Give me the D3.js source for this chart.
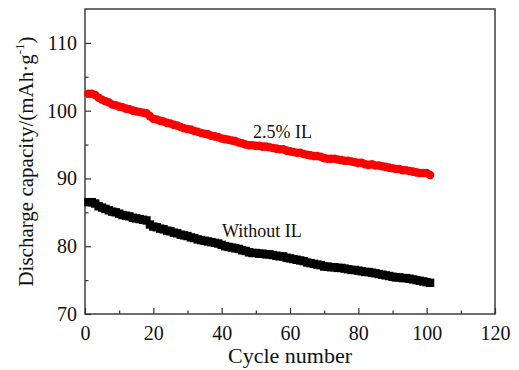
<!DOCTYPE html>
<html><head><meta charset="utf-8">
<script src="https://cdn.jsdelivr.net/npm/d3@7"></script>
<style>body{margin:0;background:#fff}svg{display:block}text{font-family:"Liberation Serif","Times New Roman","DejaVu Serif",serif;fill:#111}</style>
</head><body><svg id="c" width="519" height="370"></svg>
<script>
const cycles = d3.range(1, 102);
const withIL = [102.5,102.5,102.3,101.9,101.6,101.4,101.2,100.9,100.8,100.6,
100.5,100.3,100.2,100.0,99.9,99.8,99.7,99.6,99.2,98.8,
98.7,98.5,98.4,98.2,98.1,97.9,97.8,97.6,97.4,97.3,
97.2,97.0,96.9,96.7,96.6,96.5,96.3,96.2,96.1,95.9,
95.8,95.7,95.6,95.5,95.3,95.2,95.0,94.9,94.9,94.8,
94.8,94.7,94.7,94.6,94.5,94.4,94.3,94.3,94.1,94.0,
93.9,93.8,93.8,93.6,93.5,93.4,93.3,93.3,93.2,93.0,
92.9,92.9,92.9,92.8,92.7,92.6,92.6,92.5,92.4,92.3,
92.3,92.1,92.0,92.1,91.9,91.9,91.8,91.7,91.6,91.5,
91.4,91.4,91.2,91.2,91.1,91.0,90.9,90.8,90.8,90.8,90.5];
const withoutIL = [86.5,86.5,86.3,85.9,85.7,85.5,85.3,85.1,85.0,84.8,
84.6,84.5,84.4,84.2,84.1,84.0,83.9,83.8,83.2,82.9,
82.8,82.6,82.5,82.3,82.2,82.0,81.9,81.7,81.6,81.5,
81.3,81.2,81.0,80.9,80.8,80.7,80.6,80.5,80.4,80.2,
80.0,79.9,79.8,79.7,79.6,79.4,79.3,79.1,79.0,79.0,
78.9,78.9,78.8,78.8,78.7,78.6,78.5,78.5,78.3,78.2,
78.1,78.0,77.9,77.8,77.6,77.5,77.4,77.3,77.2,77.0,
77.0,76.9,76.9,76.8,76.8,76.7,76.6,76.5,76.5,76.4,
76.3,76.2,76.2,76.1,76.0,75.9,75.8,75.7,75.6,75.5,
75.4,75.4,75.3,75.3,75.2,75.1,75.0,74.9,74.8,74.7,74.6];
const xTicks = [0,20,40,60,80,100,120];
const yTicks = [70,80,90,100,110];
const xLabel = "Cycle number";
const labelIL = "2.5% IL";
const labelNo = "Without IL";

const svg = d3.select("#c");
const L=85, R=495, T=9, B=314;
const x = d3.scaleLinear().domain([0,120]).range([L,R]);
const y = d3.scaleLinear().domain([70,115]).range([B,T]);

// frame
svg.append("rect").attr("x",L).attr("y",T).attr("width",R-L).attr("height",B-T)
  .attr("fill","none").attr("stroke","#333").attr("stroke-width",1.4);

// x axis ticks (inward)
const gx = svg.append("g").attr("transform",`translate(0,${B})`)
  .call(d3.axisBottom(x).tickValues(xTicks).tickSizeInner(-6).tickSizeOuter(0).tickPadding(12).tickFormat(d3.format("d")));
gx.select(".domain").remove();
gx.selectAll(".tick line").attr("stroke","#333").attr("stroke-width",1.2);
gx.selectAll("text").attr("font-size",20).attr("fill","#111");
const gxm = svg.append("g").attr("transform",`translate(0,${B})`)
  .call(d3.axisBottom(x).tickValues(d3.range(10,120,20)).tickSizeInner(-3.5).tickSizeOuter(0).tickFormat(""));
gxm.select(".domain").remove();
gxm.selectAll(".tick line").attr("stroke","#333").attr("stroke-width",1.2);

// y axis ticks (inward)
const gy = svg.append("g").attr("transform",`translate(${L},0)`)
  .call(d3.axisLeft(y).tickValues(yTicks).tickSizeInner(-6).tickSizeOuter(0).tickPadding(8).tickFormat(d3.format("d")));
gy.select(".domain").remove();
gy.selectAll(".tick line").attr("stroke","#333").attr("stroke-width",1.2);
gy.selectAll("text").attr("font-size",20).attr("fill","#111");
const gym = svg.append("g").attr("transform",`translate(${L},0)`)
  .call(d3.axisLeft(y).tickValues([75,85,95,105]).tickSizeInner(-3.5).tickSizeOuter(0).tickFormat(""));
gym.select(".domain").remove();
gym.selectAll(".tick line").attr("stroke","#333").attr("stroke-width",1.2);

// axis titles
svg.append("text").attr("x",(L+R)/2).attr("y",363).attr("text-anchor","middle")
  .attr("font-size",22).text(xLabel);
const yt = svg.append("text").attr("transform",`translate(33,${(T+B)/2}) rotate(-90)`)
  .attr("text-anchor","middle").attr("font-size",21);
yt.append("tspan").text("Discharge capacity/(mAh\u00b7g");
yt.append("tspan").attr("font-size",13).attr("dy",-9).text("-1");
yt.append("tspan").attr("dy",9).text(")");

// series
const line = d3.line().x((d,i)=>x(cycles[i])).y(d=>y(d));
svg.append("path").datum(withoutIL).attr("d",line).attr("fill","none").attr("stroke","#000").attr("stroke-width",2);
svg.append("g").selectAll("rect").data(withoutIL).join("rect")
  .attr("x",(d,i)=>x(cycles[i])-4.2).attr("y",d=>y(d)-4.2).attr("width",8.4).attr("height",8.4).attr("fill","#000");
svg.append("path").datum(withIL).attr("d",line).attr("fill","none").attr("stroke","#f00").attr("stroke-width",2);
svg.append("g").selectAll("circle").data(withIL).join("circle")
  .attr("cx",(d,i)=>x(cycles[i])).attr("cy",d=>y(d)).attr("r",4.3).attr("fill","#f00");

// annotations
svg.append("text").attr("x",253).attr("y",137.5).attr("font-size",18).text(labelIL);
svg.append("text").attr("x",222).attr("y",236.5).attr("font-size",18).text(labelNo);
</script></body></html>
